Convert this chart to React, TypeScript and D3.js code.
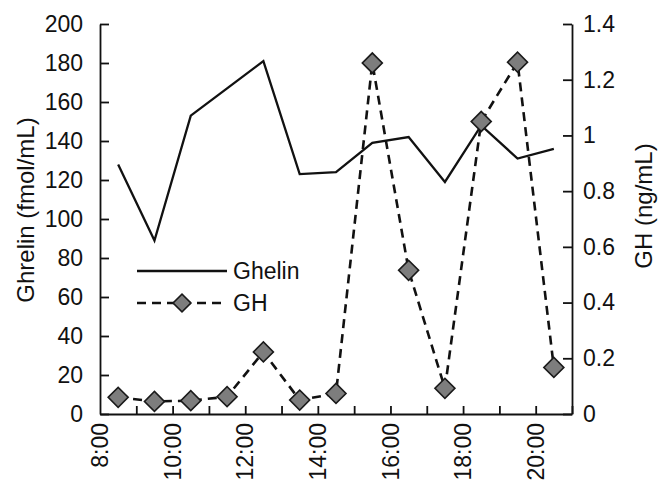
import { useEffect, useRef } from 'react'
import * as d3 from 'd3'

// sampling times (hours, mid-interval) and the two series
const HOURS=[8.5,9.5,10.5,11.5,12.5,13.5,14.5,15.5,16.5,17.5,18.5,19.5,20.5]
const GHRELIN=[128,89,153,167,181,123,124,139,142,119,148,131,136]
const GH=[0.06,0.045,0.048,0.062,0.223,0.05,0.074,1.26,0.516,0.092,1.05,1.263,0.167]
// axis ticks
const X_TICKS=[9,10,11,12,13,14,15,16,17,18,19,20,21]
const X_LABEL_HOURS=[8,10,12,14,16,18,20]
const X_LABELS=['8:00','10:00','12:00','14:00','16:00','18:00','20:00']
const LEFT_TICKS=[0,20,40,60,80,100,120,140,160,180,200]
const RIGHT_TICKS=[0,0.2,0.4,0.6,0.8,1,1.2,1.4]

export default function App() {
  const ref=useRef<SVGSVGElement>(null)
  useEffect(() => {
    if(!ref.current) return
    const W=658, H=483
    const m={top:24,right:86,bottom:69,left:100}
    const font='"Liberation Sans", Arial, Helvetica, sans-serif'
    const ink='#111'
    const svg=d3.select(ref.current)
    svg.selectAll('*').remove()
    svg.attr('font-family',font)

    const x=d3.scaleLinear().domain([8,21]).range([m.left,W-m.right])
    const yL=d3.scaleLinear().domain([0,200]).range([H-m.bottom,m.top])
    const yR=d3.scaleLinear().domain([0,1.4]).range([H-m.bottom,m.top])

    const styleAxis=(g:any)=>{
      g.attr('font-size',23).attr('font-family',font).attr('color',ink)
      g.selectAll('path,line').attr('stroke-width',1.8)
    }
    svg.append('g').attr('transform',`translate(${m.left},0)`)
      .call(d3.axisLeft(yL).tickValues(LEFT_TICKS).tickSize(-9).tickSizeOuter(0).tickPadding(17))
      .call(styleAxis)
    svg.append('g').attr('transform',`translate(${W-m.right},0)`)
      .call(d3.axisRight(yR).tickValues(RIGHT_TICKS).tickSize(-9).tickSizeOuter(0).tickPadding(11).tickFormat(d=>String(d)))
      .call(styleAxis)
    svg.append('g').attr('transform',`translate(0,${H-m.bottom})`)
      .call(d3.axisBottom(x).tickValues(X_TICKS).tickSize(-8).tickSizeOuter(0).tickFormat(()=>''))
      .call(styleAxis)

    // rotated time labels
    svg.append('g').attr('font-size',23).attr('fill',ink)
      .selectAll('text').data(X_LABEL_HOURS).join('text')
      .attr('transform',d=>`translate(${x(d)},${yL(0)+9}) rotate(-90)`)
      .attr('text-anchor','end').attr('dy','0.35em')
      .text((d,i)=>X_LABELS[i])

    // axis titles
    svg.append('text').attr('transform','translate(34,210) rotate(-90)')
      .attr('text-anchor','middle').attr('font-size',24).attr('fill',ink).text('Ghrelin (fmol/mL)')
    svg.append('text').attr('transform','translate(652,206) rotate(-90)')
      .attr('text-anchor','middle').attr('font-size',24).attr('fill',ink).text('GH (ng/mL)')

    // series
    const ghrelinLine=d3.line<number>().x((d,i)=>x(HOURS[i])).y(d=>yL(d))
    const ghLine=d3.line<number>().x((d,i)=>x(HOURS[i])).y(d=>yR(d))
    svg.append('path').datum(GHRELIN).attr('d',ghrelinLine)
      .attr('fill','none').attr('stroke',ink).attr('stroke-width',2.3).attr('stroke-linejoin','miter')
    svg.append('path').datum(GH).attr('d',ghLine)
      .attr('fill','none').attr('stroke',ink).attr('stroke-width',2.6).attr('stroke-dasharray','9,6')

    const diamond=d3.symbol().type(d3.symbolSquare).size(200)
    svg.append('g').selectAll('path').data(GH).join('path')
      .attr('d',diamond)
      .attr('transform',(d,i)=>`translate(${x(HOURS[i])},${yR(d)}) rotate(45)`)
      .attr('fill','#7d7d7d').attr('stroke','#1a1a1a').attr('stroke-width',1.6)

    // legend
    const lg=svg.append('g')
    lg.append('line').attr('x1',137).attr('x2',227).attr('y1',271).attr('y2',271)
      .attr('stroke',ink).attr('stroke-width',2.3)
    lg.append('text').attr('x',233).attr('y',271).attr('dy','0.35em').attr('font-size',23).attr('fill',ink).text('Ghelin')
    lg.append('line').attr('x1',137).attr('x2',227).attr('y1',303).attr('y2',303)
      .attr('stroke',ink).attr('stroke-width',2.6).attr('stroke-dasharray','9,6')
    lg.append('path').attr('d',d3.symbol().type(d3.symbolSquare).size(160)())
      .attr('transform','translate(182,303) rotate(45)')
      .attr('fill','#7d7d7d').attr('stroke','#1a1a1a').attr('stroke-width',1.6)
    lg.append('text').attr('x',233).attr('y',303).attr('dy','0.35em').attr('font-size',23).attr('fill',ink).text('GH')
  },[])
  return <svg ref={ref} width={658} height={483} style={{ position:'absolute', left:0, top:0, background:'#fff' }} />
}
